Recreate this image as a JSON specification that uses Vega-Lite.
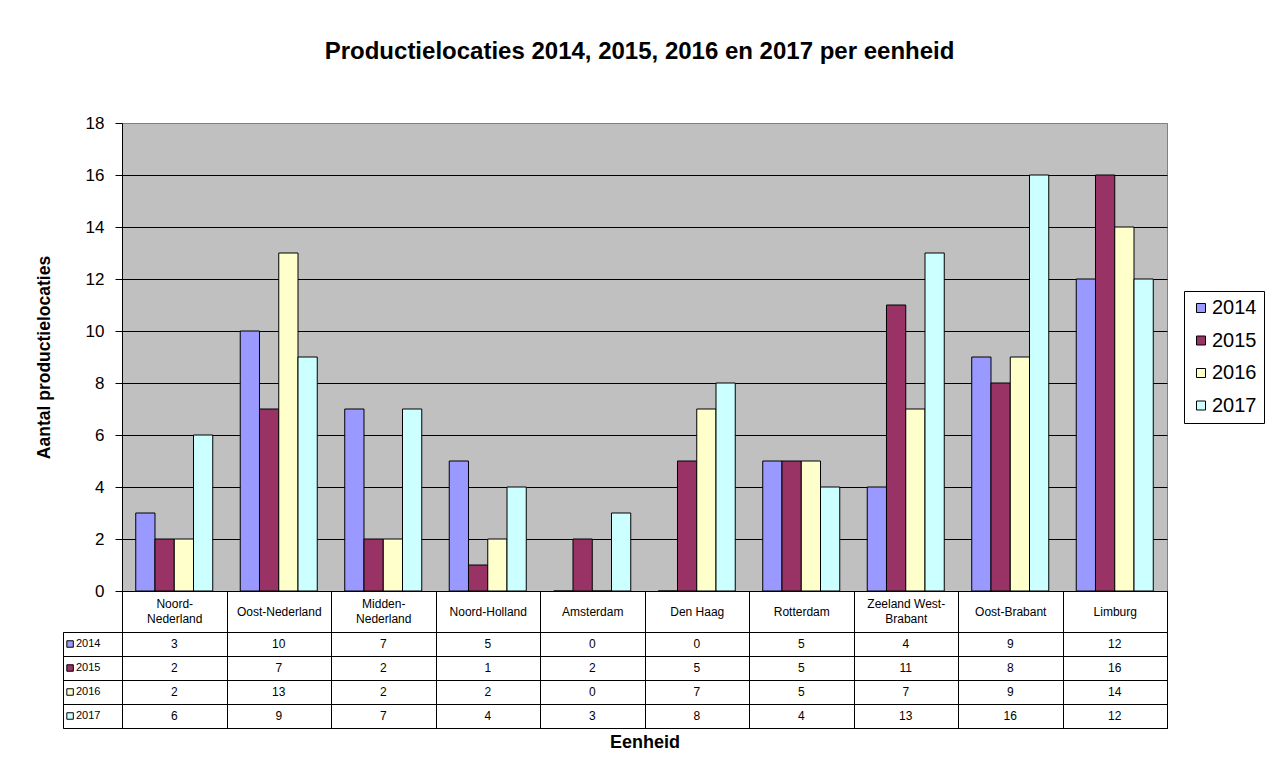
{
  "$schema": "https://vega.github.io/schema/vega-lite/v6.json",
  "config": {"font": "Liberation Sans", "view": {"stroke": null}, "axis": {"labelColor": "black", "titleColor": "black"}},
  "padding": {"left": 34, "top": 39, "right": 10, "bottom": 5},
  "title": {"text": "Productielocaties 2014, 2015, 2016 en 2017 per eenheid", "fontSize": 24, "fontWeight": "bold", "anchor": "middle", "offset": 50, "dx": -10, "color": "black"},
  "datasets": {
    "d": [
      {"cat": "Noord-Nederland", "year": "2014", "value": 3},
      {"cat": "Oost-Nederland", "year": "2014", "value": 10},
      {"cat": "Midden-Nederland", "year": "2014", "value": 7},
      {"cat": "Noord-Holland", "year": "2014", "value": 5},
      {"cat": "Amsterdam", "year": "2014", "value": 0},
      {"cat": "Den Haag", "year": "2014", "value": 0},
      {"cat": "Rotterdam", "year": "2014", "value": 5},
      {"cat": "Zeeland West-Brabant", "year": "2014", "value": 4},
      {"cat": "Oost-Brabant", "year": "2014", "value": 9},
      {"cat": "Limburg", "year": "2014", "value": 12},
      {"cat": "Noord-Nederland", "year": "2015", "value": 2},
      {"cat": "Oost-Nederland", "year": "2015", "value": 7},
      {"cat": "Midden-Nederland", "year": "2015", "value": 2},
      {"cat": "Noord-Holland", "year": "2015", "value": 1},
      {"cat": "Amsterdam", "year": "2015", "value": 2},
      {"cat": "Den Haag", "year": "2015", "value": 5},
      {"cat": "Rotterdam", "year": "2015", "value": 5},
      {"cat": "Zeeland West-Brabant", "year": "2015", "value": 11},
      {"cat": "Oost-Brabant", "year": "2015", "value": 8},
      {"cat": "Limburg", "year": "2015", "value": 16},
      {"cat": "Noord-Nederland", "year": "2016", "value": 2},
      {"cat": "Oost-Nederland", "year": "2016", "value": 13},
      {"cat": "Midden-Nederland", "year": "2016", "value": 2},
      {"cat": "Noord-Holland", "year": "2016", "value": 2},
      {"cat": "Amsterdam", "year": "2016", "value": 0},
      {"cat": "Den Haag", "year": "2016", "value": 7},
      {"cat": "Rotterdam", "year": "2016", "value": 5},
      {"cat": "Zeeland West-Brabant", "year": "2016", "value": 7},
      {"cat": "Oost-Brabant", "year": "2016", "value": 9},
      {"cat": "Limburg", "year": "2016", "value": 14},
      {"cat": "Noord-Nederland", "year": "2017", "value": 6},
      {"cat": "Oost-Nederland", "year": "2017", "value": 9},
      {"cat": "Midden-Nederland", "year": "2017", "value": 7},
      {"cat": "Noord-Holland", "year": "2017", "value": 4},
      {"cat": "Amsterdam", "year": "2017", "value": 3},
      {"cat": "Den Haag", "year": "2017", "value": 8},
      {"cat": "Rotterdam", "year": "2017", "value": 4},
      {"cat": "Zeeland West-Brabant", "year": "2017", "value": 13},
      {"cat": "Oost-Brabant", "year": "2017", "value": 16},
      {"cat": "Limburg", "year": "2017", "value": 12}
    ]
  },
  "data": {"name": "d"},
  "columns": 2,
  "bounds": "flush",
  "align": "each",
  "spacing": {"row": 41, "column": 0},
  "resolve": {"scale": {"x": "independent", "y": "independent"}},
  "concat": [
    {
      "width": 59,
      "height": 468,
      "data": {"values": []},
      "mark": {"type": "point", "opacity": 0},
      "encoding": {}
    },
    {
      "width": 1045,
      "height": 468,
      "view": {"fill": "#C0C0C0", "stroke": "#808080"},
      "mark": {"type": "bar", "stroke": "black", "strokeWidth": 1},
      "encoding": {
        "x": {
          "field": "cat", "type": "nominal",
          "sort": ["Noord-Nederland", "Oost-Nederland", "Midden-Nederland", "Noord-Holland", "Amsterdam", "Den Haag", "Rotterdam", "Zeeland West-Brabant", "Oost-Brabant", "Limburg"],
          "scale": {"paddingInner": 0, "paddingOuter": 0},
          "axis": {
            "title": null, "labelAngle": 0, "tickBand": "extent", "tickSize": 41, "tickColor": "black",
            "domainColor": "black", "labelFontSize": 12, "labelBaseline": "middle",
            "labelPadding": {"condition": {"test": "datum.value == 'Noord-Nederland' || datum.value == 'Midden-Nederland' || datum.value == 'Zeeland West-Brabant'", "value": -28.5}, "value": -20.5},
            "labelLineHeight": 15,
            "labelExpr": "datum.value == 'Noord-Nederland' ? ['Noord-', 'Nederland'] : datum.value == 'Midden-Nederland' ? ['Midden-', 'Nederland'] : datum.value == 'Zeeland West-Brabant' ? ['Zeeland West-', 'Brabant'] : datum.label"
          }
        },
        "y": {
          "field": "value", "type": "quantitative",
          "scale": {"domain": [0, 18]},
          "axis": {
            "values": [0, 2, 4, 6, 8, 10, 12, 14, 16, 18], "grid": true,
            "gridColor": {"condition": {"test": "datum.value == 18", "value": "#808080"}, "value": "black"}, "gridOpacity": 1,
            "tickColor": "black", "tickSize": 7, "domainColor": "black", "labelFontSize": 17, "labelPadding": 11,
            "title": "Aantal productielocaties", "titleFontSize": 17.5, "titleFontWeight": "bold", "titlePadding": 32
          }
        },
        "xOffset": {"field": "year", "type": "nominal", "scale": {"paddingInner": 0, "paddingOuter": 0.714}},
        "color": {
          "field": "year", "type": "nominal",
          "scale": {"domain": ["2014", "2015", "2016", "2017"], "range": ["#9999FF", "#993366", "#FFFFCC", "#CCFFFF"]},
          "legend": {
            "title": null, "orient": "none", "legendX": 1121, "legendY": 168,
            "strokeColor": "black", "padding": 7, "symbolType": "square", "symbolSize": 81,
            "symbolStrokeColor": "black", "symbolStrokeWidth": 1, "labelFontSize": 20, "rowPadding": 12.5,
            "labelOffset": 1, "labelColor": "black", "symbolOpacity": 1
          }
        }
      }
    },
    {
      "width": 59,
      "height": 96,
      "view": {"stroke": "black"},
      "transform": [{"aggregate": [{"op": "count", "as": "n"}], "groupby": ["year"]}],
      "encoding": {
        "y": {"field": "year", "type": "nominal", "scale": {"padding": 0},
          "axis": {"labels": false, "ticks": false, "domain": false, "grid": true, "tickBand": "extent", "gridColor": "black", "gridOpacity": 1, "title": null}}
      },
      "layer": [
        {
          "mark": {"type": "point", "shape": "square", "filled": true, "stroke": "black", "strokeWidth": 1, "size": 42, "opacity": 1},
          "encoding": {
            "x": {"datum": 0.12, "type": "quantitative", "scale": {"domain": [0, 1]}, "axis": null},
            "color": {"field": "year", "type": "nominal", "legend": null}
          }
        },
        {
          "mark": {"type": "text", "align": "left", "fontSize": 11, "color": "black"},
          "encoding": {
            "x": {"datum": 0.22, "type": "quantitative", "scale": {"domain": [0, 1]}, "axis": null},
            "text": {"field": "year"}
          }
        }
      ]
    },
    {
      "width": 1045,
      "height": 96,
      "view": {"stroke": "black"},
      "mark": {"type": "text", "fontSize": 12, "color": "black"},
      "encoding": {
        "x": {
          "field": "cat", "type": "nominal",
          "sort": ["Noord-Nederland", "Oost-Nederland", "Midden-Nederland", "Noord-Holland", "Amsterdam", "Den Haag", "Rotterdam", "Zeeland West-Brabant", "Oost-Brabant", "Limburg"],
          "scale": {"paddingInner": 0, "paddingOuter": 0},
          "axis": {"labels": false, "ticks": false, "domain": false, "grid": true, "tickBand": "extent", "gridColor": "black", "gridOpacity": 1,
            "title": "Eenheid", "titleFontSize": 18, "titleFontWeight": "bold", "titlePadding": 5}
        },
        "y": {"field": "year", "type": "nominal", "scale": {"padding": 0},
          "axis": {"labels": false, "ticks": false, "domain": false, "grid": true, "tickBand": "extent", "gridColor": "black", "gridOpacity": 1, "title": null}},
        "text": {"field": "value", "type": "quantitative"}
      }
    }
  ]
}
